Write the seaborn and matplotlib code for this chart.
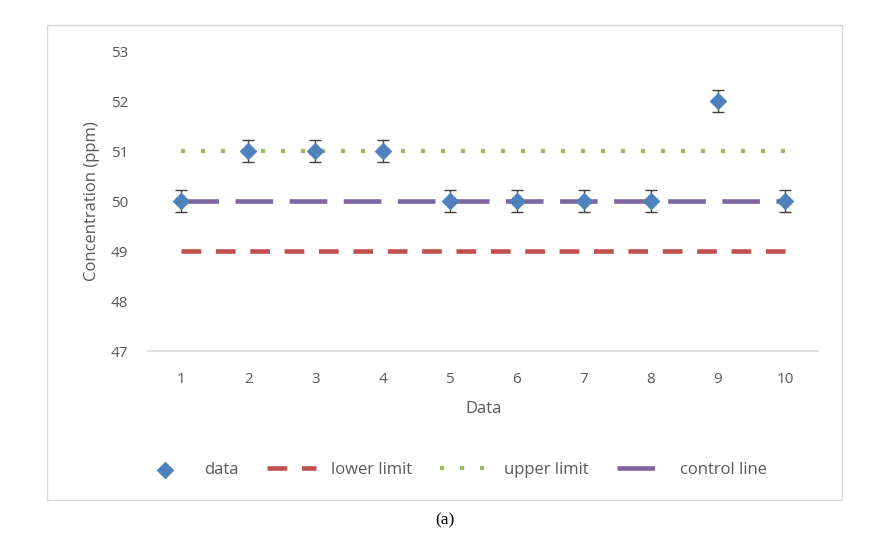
import numpy as np
import pandas as pd
import matplotlib
matplotlib.use("Agg")
import matplotlib.pyplot as plt
import seaborn as sns
from matplotlib.patches import Rectangle

# valeurs
x_vals = [1, 2, 3, 4, 5, 6, 7, 8, 9, 10]
data_vals = [50, 51, 51, 51, 50, 50, 50, 50, 52, 50]
err_vals = [0.22] * 10
lower_vals = [49] * 10
upper_vals = [51] * 10
control_vals = [50] * 10

sns.set_theme(style="white")
plt.rcParams['font.family'] = ['Open Sans', 'DejaVu Sans']

df = pd.DataFrame({'x': x_vals, 'data': data_vals, 'lower': lower_vals,
                   'upper': upper_vals, 'control': control_vals})

fig = plt.figure(figsize=(8.8, 5.52), dpi=100)
ax = fig.add_axes([0.168, 0.364, 0.762, 0.5436])

# cadre extérieur
fig.patches.append(Rectangle((47 / 880, 1 - 500 / 552), 795 / 880, 475 / 552,
                             transform=fig.transFigure, fill=False,
                             edgecolor='#d9d9d9', linewidth=1))

sns.lineplot(data=df, x='x', y='lower', ax=ax, color='#C0504D', linewidth=3.3,
             label='lower limit')
ax.lines[-1].set_dashes([4.3, 3.2])
ax.lines[-1].set_dash_capstyle('butt')
sns.lineplot(data=df, x='x', y='upper', ax=ax, color='#9BBB59', linewidth=3,
             label='upper limit')
ax.lines[-1].set_dashes([1, 3.8])
ax.lines[-1].set_dash_capstyle('butt')
sns.lineplot(data=df, x='x', y='control', ax=ax, color='#8064A2', linewidth=3.3,
             label='control line')
ax.lines[-1].set_dashes([8.2, 3.6])
ax.lines[-1].set_dash_capstyle('butt')

ax.errorbar(x_vals, data_vals, yerr=err_vals, fmt='none', ecolor='#404040',
            elinewidth=1, capsize=4, capthick=1, zorder=4)
sns.scatterplot(data=df, x='x', y='data', ax=ax, marker='D', s=70,
                color='#4F81BD', edgecolor='#4F81BD', label='data', zorder=5)

ax.set_xlim(0.5, 10.5)
ax.set_ylim(47, 53)
ax.set_xticks(x_vals)
ax.set_yticks(range(47, 54))
ax.tick_params(axis='both', colors='#595959', labelsize=11, length=0)
ax.tick_params(axis='x', pad=15)
ax.tick_params(axis='y', pad=14)
for s in ['top', 'right', 'left']:
    ax.spines[s].set_visible(False)
ax.spines['bottom'].set_color('#d9d9d9')
ax.set_xlabel('Data', color='#595959', fontsize=12, labelpad=10)
ax.set_ylabel('Concentration (ppm)', color='#595959', fontsize=12, labelpad=8)

handles, labels = ax.get_legend_handles_labels()
order = [labels.index(l) for l in ['data', 'lower limit', 'upper limit', 'control line']]
ax.legend([handles[i] for i in order], [labels[i] for i in order],
          loc='center', bbox_to_anchor=(0.516, 1 - 470 / 552),
          bbox_transform=fig.transFigure, ncol=4, frameon=False,
          fontsize=12, labelcolor='#595959', handlelength=2.9,
          columnspacing=1.7, handletextpad=0.9)

fig.text(0.506, 1 - 520 / 552, '(a)', ha='center', va='center',
         fontsize=12.5, family='Liberation Serif', color='black')

fig.savefig('out.png', dpi=100)
